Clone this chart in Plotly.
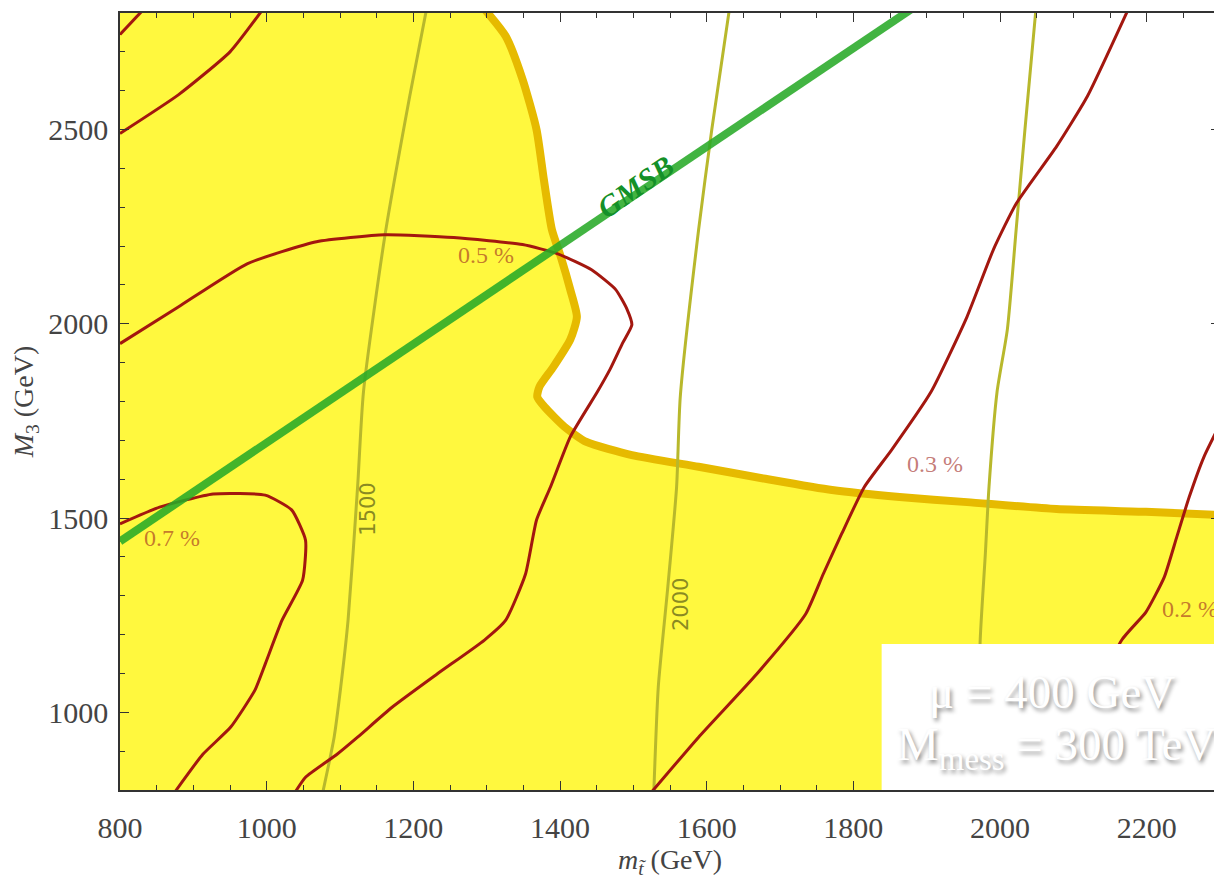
import plotly.graph_objects as go

# ---------------- data (GeV) ----------------
X_RANGE = [800, 2300]
Y_RANGE = [800, 2800]
x_ticks = [800, 1000, 1200, 1400, 1600, 1800, 2000, 2200]
y_ticks = [1000, 1500, 2000, 2500]

# boundary of the yellow region
boundary_x = [1297, 1326, 1349, 1368, 1378, 1389, 1401, 1414, 1423, 1414, 1391, 1372, 1369,
              1379, 1406, 1436, 1498, 1589, 1680, 1771, 1863, 1955, 2077, 2199, 2300]
boundary_y = [2810, 2740, 2629, 2500, 2371, 2242, 2173, 2088, 2018, 1959, 1889, 1838, 1812,
              1786, 1735, 1696, 1662, 1632, 1601, 1572, 1554, 1541, 1523, 1516, 1508]

# fine-tuning contours (red)
red_a_x = [800, 835]
red_a_y = [2745, 2815]
red_b_x = [800, 880, 950, 995]
red_b_y = [2490, 2590, 2700, 2810]
red_05_x = [800, 880, 974, 1068, 1161, 1255, 1349, 1397, 1443, 1476, 1491, 1498,
            1485, 1468, 1451, 1414, 1387, 1368, 1353, 1326, 1297, 1232, 1171, 1124, 1096, 1053, 1040]
red_05_y = [1949, 2044, 2155, 2211, 2229, 2222, 2204, 2180, 2139, 2088, 2039, 1997,
            1949, 1882, 1825, 1709, 1580, 1495, 1356, 1237, 1186, 1098, 1013, 936, 892, 833, 798]
red_07_x = [800, 854, 927, 998, 1034, 1053, 1049, 1021, 998, 984, 951, 913, 876]
red_07_y = [1485, 1528, 1562, 1559, 1521, 1443, 1340, 1237, 1124, 1057, 962, 892, 798]
red_03_x = [1525, 1589, 1668, 1735, 1759, 1784, 1815, 1852, 1906, 1955, 1991, 2022, 2077, 2119, 2175]
red_03_y = [795, 936, 1098, 1253, 1356, 1459, 1580, 1675, 1825, 2018, 2191, 2309, 2456, 2585, 2810]
red_02_x = [2070, 2166, 2199, 2224, 2241, 2258, 2278, 2305]
red_02_y = [798, 1186, 1258, 1348, 1451, 1554, 1657, 1760]

# mass contours (olive)
olive_1500_x = [1218, 1195, 1161, 1132, 1124, 1111, 1101, 1092, 1077]
olive_1500_y = [2810, 2585, 2224, 1825, 1580, 1237, 1065, 936, 798]
olive_2000_x = [1631, 1607, 1589, 1564, 1559, 1547, 1534, 1528]
olive_2000_y = [2810, 2500, 2242, 1812, 1580, 1322, 1065, 798]
olive_2500_x = [2049, 2034, 2022, 2010, 1996, 1985, 1980, 1973, 1969]
olive_2500_y = [2810, 2500, 2242, 1985, 1825, 1580, 1407, 1186, 798]

# GMSB line
gmsb_x = [800, 1880]
gmsb_y = [1440, 2811]

# labels
pct_labels = ["0.5 %", "0.7 %", "0.3 %", "0.2 %"]
pct_x = [1299, 871, 1912, 2300]
pct_y = [2178, 1449, 1639, 1266]
mass_labels = ["1500", "2000"]
mass_x = [1139, 1566]
mass_y = [1523, 1278]

# ---------------- colours ----------------
YELLOW = "#FFF83E"
ORANGE = "#E6BA00"
RED = "#A3170F"
OLIVE = "#B8B82C"
GREEN = "rgba(40,170,40,0.88)"

fig = go.Figure()

# yellow region
fig.add_trace(go.Scatter(
    x=[800] + boundary_x + [2300, 800],
    y=[2810] + boundary_y + [798, 798],
    fill="toself", fillcolor=YELLOW, mode="none", hoverinfo="skip", showlegend=False))

fig.add_trace(go.Scatter(x=boundary_x, y=boundary_y, mode="lines",
                         line=dict(color=ORANGE, width=8, shape="spline", smoothing=0.6),
                         showlegend=False))

for xs, ys in [(olive_1500_x, olive_1500_y), (olive_2000_x, olive_2000_y), (olive_2500_x, olive_2500_y)]:
    fig.add_trace(go.Scatter(x=xs, y=ys, mode="lines",
                             line=dict(color=OLIVE, width=3, shape="spline", smoothing=0.6),
                             showlegend=False))

for xs, ys in [(red_a_x, red_a_y), (red_b_x, red_b_y), (red_05_x, red_05_y),
               (red_07_x, red_07_y), (red_03_x, red_03_y), (red_02_x, red_02_y)]:
    fig.add_trace(go.Scatter(x=xs, y=ys, mode="lines",
                             line=dict(color=RED, width=3, shape="spline", smoothing=0.5),
                             showlegend=False))

fig.add_trace(go.Scatter(x=gmsb_x, y=gmsb_y, mode="lines",
                         line=dict(color=GREEN, width=8), showlegend=False))

annotations = []
for t, x, y in zip(pct_labels, pct_x, pct_y):
    annotations.append(dict(x=x, y=y, text=t, showarrow=False,
                            xanchor="right" if t == "0.2 %" else "center",
                            font=dict(family="Liberation Serif", size=24,
                                      color="rgba(160,40,30,0.62)")))
for t, x, y in zip(mass_labels, mass_x, mass_y):
    annotations.append(dict(x=x, y=y, text=t, showarrow=False, textangle=-90,
                            font=dict(family="DejaVu Sans", size=21, color="#8A8A22")))
annotations.append(dict(x=1503, y=2353, text="<b><i>GMSB</i></b>", showarrow=False, textangle=-35,
                        font=dict(family="Liberation Serif", size=30, color="#149028")))

# box text
annotations.append(dict(xref="paper", yref="paper", x=0.847, y=0.126, xanchor="center", yanchor="middle",
                        text="μ = 400 GeV", showarrow=False,
                        font=dict(family="Liberation Serif", size=47, color="white",
                                  shadow="2px 3px 4px rgba(0,0,0,0.45)")))
annotations.append(dict(xref="paper", yref="paper", x=0.851, y=0.055, xanchor="center", yanchor="middle",
                        text="M<sub>mess</sub> = 300 TeV", showarrow=False,
                        font=dict(family="Liberation Serif", size=47, color="white",
                                  shadow="2px 3px 4px rgba(0,0,0,0.45)")))

shapes = [dict(type="rect", xref="paper", yref="paper", x0=0.6924, x1=1.0, y0=0.0, y1=0.188,
               fillcolor="white", line=dict(width=0), layer="above")]

axis_common = dict(showgrid=False, zeroline=False, ticks="inside", ticklen=9, tickwidth=1.2,
                   tickcolor="#333", showline=True, linecolor="#333", linewidth=1.5, mirror="ticks",
                   tickfont=dict(family="Liberation Serif", size=30, color="#444"))

# page body has an 8px margin: figure sized/margined so the plot area lands at
# x 120..1222, y 13..790 of the window
fig.update_layout(
    width=1214, height=878,
    margin=dict(l=112, r=0, t=5, b=96),
    plot_bgcolor="white", paper_bgcolor="white",
    xaxis=dict(range=X_RANGE, tickvals=x_ticks, ticklabelstandoff=10,
               minor=dict(dtick=50, ticks="inside", ticklen=5, tickcolor="#333"),
               title=dict(text="<i>m</i><sub><i>t̃</i></sub> (GeV)", standoff=4,
                          font=dict(family="Liberation Serif", size=28, color="#444")),
               **axis_common),
    yaxis=dict(range=Y_RANGE, tickvals=y_ticks, ticklabelstandoff=4,
               minor=dict(dtick=100, ticks="inside", ticklen=5, tickcolor="#333"),
               title=dict(text="<i>M</i><sub>3</sub> (GeV)", standoff=8,
                          font=dict(family="Liberation Serif", size=28, color="#444")),
               **axis_common),
    annotations=annotations, shapes=shapes,
)

fig.write_html("out.html")
